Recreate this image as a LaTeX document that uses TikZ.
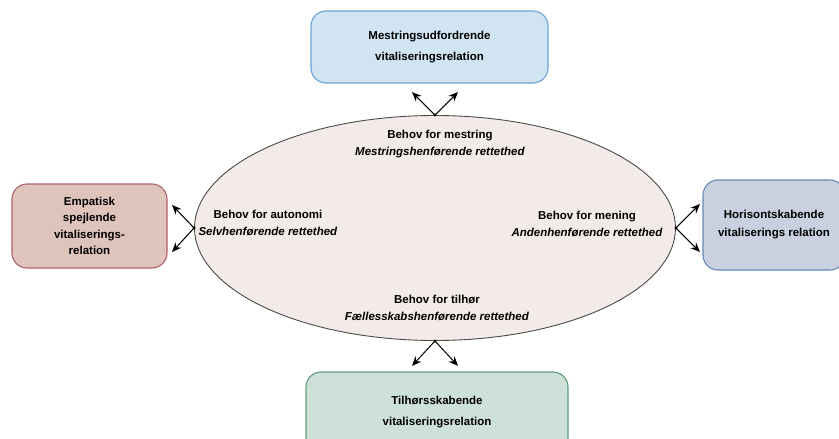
\documentclass[tikz,border=0pt]{standalone}
\usepackage{fontspec}
\setmainfont{Liberation Sans}
\usepackage{tikz}
\usetikzlibrary{arrows.meta}
\usetikzlibrary{calc}
\usetikzlibrary{shapes.geometric}

\definecolor{VRMestFill}{HTML}{D1E4F2}
\definecolor{VRMestLine}{HTML}{6BA3D6}
\definecolor{VRAutoFill}{HTML}{DFC4BC}
\definecolor{VRAutoLine}{HTML}{B0606A}
\definecolor{VRMenFill}{HTML}{C9D0E0}
\definecolor{VRMenLine}{HTML}{6689B3}
\definecolor{VRTilFill}{HTML}{CEE1D8}
\definecolor{VRTilLine}{HTML}{5E9B7E}
\definecolor{VRNeedFill}{HTML}{F3EBE8}
\definecolor{VRNeedLine}{HTML}{4A4A4A}

\tikzset{
  relation/.style={rounded corners=15pt, line width=1.1pt, align=center, inner sep=0pt},
  need/.style={align=center, inner sep=0pt, font=\bfseries\fontsize{11.5}{17}\selectfont},
  fork/.style={line width=1pt, -{Stealth[length=9.5pt,width=8pt]}},
}

\newcommand{\VRRelation}[4]{
  \node[relation, #2] (#1) at #3 {#4};
}
\newcommand{\VRNeed}[3]{
  \node[need] (#1) at #2 {#3};
}
\newcommand{\VRFork}[4]{
  \coordinate (#1) at #2;
  \fill (#1) circle (1.6pt);
  \coordinate (#1a) at ($(#1) + #3$);
  \coordinate (#1b) at ($(#1) + #4$);
  \draw[fork] (#1) -- (#1a);
  \draw[fork] (#1) -- (#1b);
}

\begin{document}
\begin{tikzpicture}[x=1pt, y=-1pt]
\useasboundingbox (0,0) rectangle (839,439);
\clip (0,0) rectangle (839,439);

\node[ellipse, draw=VRNeedLine, fill=VRNeedFill, line width=0.9pt, inner sep=0pt,
      minimum width=481pt, minimum height=225pt] (needs) at (435,228) {};

\VRNeed{nmest}{(440,144)}{Behov for mestring\\\textit{Mestringshenførende rettethed}}
\VRNeed{nauto}{(268,223)}{Behov for autonomi\\\textit{Selvhenførende rettethed}}
\VRNeed{nmen}{(587,224)}{Behov for mening\\\textit{Andenhenførende rettethed}}
\VRNeed{ntil}{(437,308)}{Behov for tilhør\\\textit{Fællesskabshenførende rettethed}}

\VRRelation{rmest}{fill=VRMestFill, draw=VRMestLine, minimum width=237pt, minimum height=72pt,
  font=\bfseries\fontsize{11.5}{21}\selectfont}{(429.5,47)}{Mestringsudfordrende\\vitaliseringsrelation}
\VRRelation{rauto}{fill=VRAutoFill, draw=VRAutoLine, minimum width=155pt, minimum height=84pt,
  font=\bfseries\fontsize{11.5}{16.5}\selectfont}{(89.5,226)}{Empatisk\\spejlende\\vitaliserings-\\relation}
\VRRelation{rmen}{fill=VRMenFill, draw=VRMenLine, minimum width=142pt, minimum height=90pt,
  font=\bfseries\fontsize{11.5}{18}\selectfont}{(774,225)}{Horisontskabende\\vitaliserings relation}
\VRRelation{rtil}{fill=VRTilFill, draw=VRTilLine, minimum width=262pt, minimum height=81pt,
  font=\bfseries\fontsize{11.5}{21}\selectfont}{(437,412.5)}{Tilhørsskabende\\vitaliseringsrelation}

\VRFork{fmest}{(needs.north)}{(-23,-23)}{(23,-23)}
\VRFork{fauto}{(needs.west)}{(-22,-23)}{(-22,24)}
\VRFork{fmen}{(needs.east)}{(24,-24)}{(24,24)}
\VRFork{ftil}{(needs.south)}{(-23,25)}{(23,25)}
\end{tikzpicture}
\end{document}
